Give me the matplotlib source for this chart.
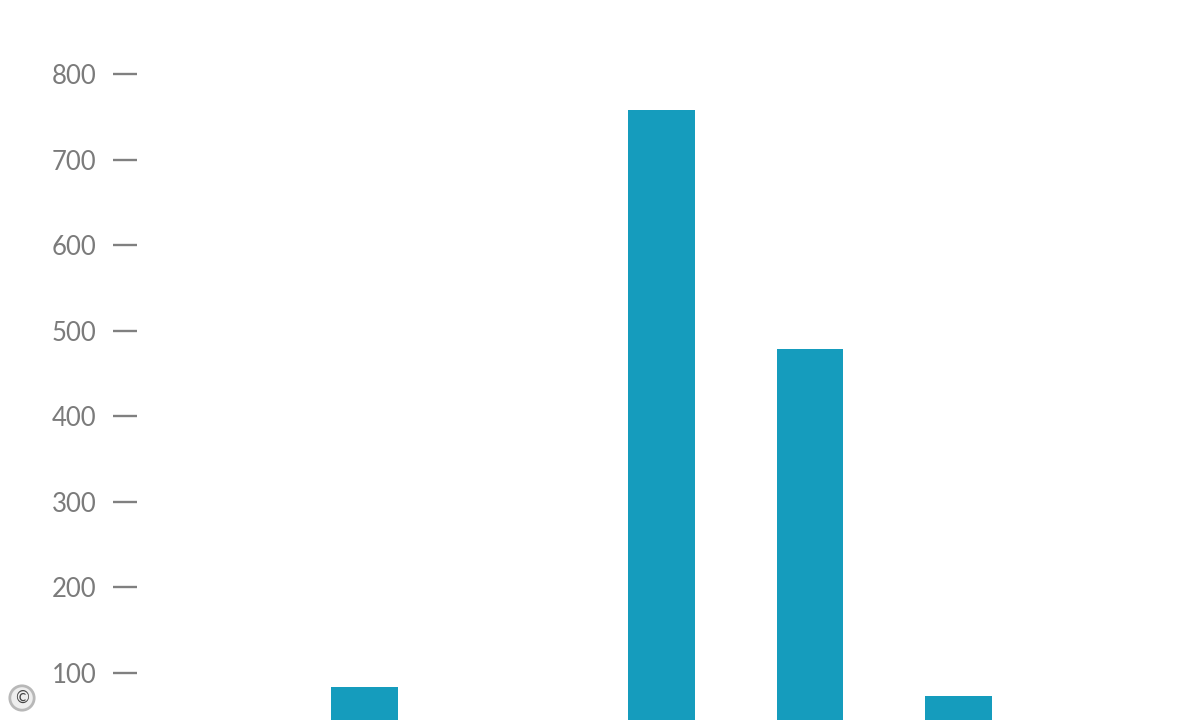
import matplotlib.pyplot as plt

# slots along the x axis; only four bars rise above the cropped bottom edge
categories = ["A", "B", "C", "D", "E", "F", "G"]
values = [0, 84, 0, 758, 479, 73, 0]
y_ticks = [100, 200, 300, 400, 500, 600, 700, 800]

bar_color = "#159cbd"
text_color = "#7b7b7b"

plt.rcParams["font.family"] = ["Lato", "DejaVu Sans"]

fig = plt.figure(figsize=(12, 7.2), dpi=100)
ax = fig.add_axes([137 / 1200, 0, 1 - 137 / 1200, 1])

ax.bar(range(len(categories)), values, width=0.45, color=bar_color)

ax.set_xlim(-0.532, 6.626)
ax.set_ylim(45, 887)
ax.set_yticks(y_ticks)
ax.set_xticks([])
ax.tick_params(axis="y", direction="out", length=17.3, width=1.7,
               color="#808080", labelcolor=text_color, labelsize=18.5, pad=12)
for side in ["top", "right", "bottom", "left"]:
    ax.spines[side].set_visible(False)

fig.text(22 / 1200, 1 - 698 / 720, "\u00a9", ha="center", va="center",
         fontsize=12, color="#444444",
         bbox=dict(boxstyle="circle,pad=0.25", facecolor="#eeeeee",
                   edgecolor="#b8b8b8", linewidth=2))

fig.savefig("out.png", dpi=100)
